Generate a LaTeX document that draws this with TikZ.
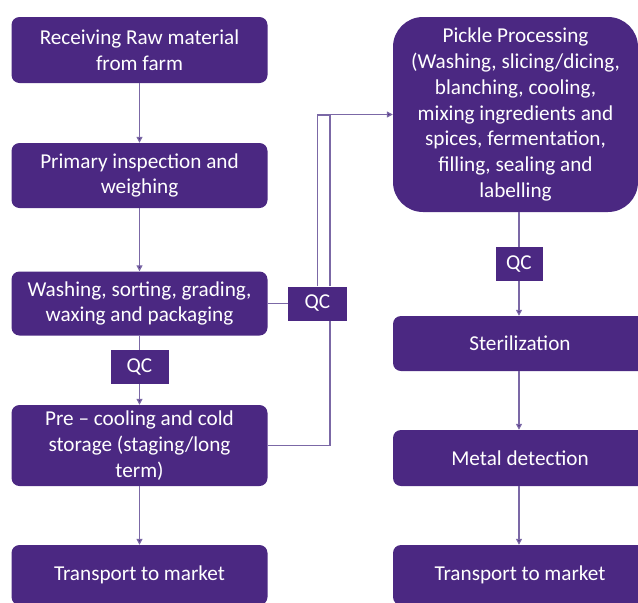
\documentclass[tikz,border=0pt]{standalone}
\usepackage{fontspec}
\setmainfont{Carlito}
\usetikzlibrary{arrows.meta}
\definecolor{stepfill}{HTML}{4B2882}
\definecolor{linkline}{HTML}{7B68A6}
\tikzset{
  stepbox/.style={rectangle, rounded corners=8pt, fill=stepfill, text=white,
    align=center, inner sep=0pt, minimum width=256pt,
    font=\fontsize{21.2}{25.7}\selectfont},
  qcbox/.style={rectangle, fill=stepfill, text=white, inner sep=0pt,
    minimum height=34pt, font=\fontsize{21.2}{25.7}\selectfont},
  link/.style={draw=linkline, line width=1.2pt},
  flow/.style={link, -{Triangle[length=6pt,width=6pt,fill=stepfill]}}
}

\begin{document}
\begin{tikzpicture}[x=1pt,y=-1pt]
  \useasboundingbox (0,0) rectangle (638,603);
  %%%%% left column %%%%%
  \node[stepbox, minimum height=66pt] (recv) at (139.5,50) {Receiving Raw material\\from farm};
  \node[stepbox, minimum height=65pt] (insp) at (139.5,175.5) {Primary inspection and\\weighing};
  \node[stepbox, minimum height=64pt] (wash) at (139.5,303.5) {Washing, sorting, grading,\\waxing and packaging};
  \node[qcbox, minimum width=58pt] (qca) at (139.5,367) {QC};
  \node[stepbox, minimum height=81pt] (cool) at (139.5,445.5) {Pre -- cooling and cold\\storage (staging/long\\term)};
  \node[stepbox, minimum height=60pt] (tra) at (139.5,575) {Transport to market};

  %%%%% right column %%%%%
  \node[stepbox, rounded corners=30pt, minimum width=245pt, minimum height=195pt] (pickle) at (515.5,114.5)
    {Pickle Processing\\(Washing, slicing/dicing,\\blanching, cooling,\\mixing ingredients and\\spices, fermentation,\\filling, sealing and\\labelling};
  \node[qcbox, minimum width=47pt] (qcb) at (519,264) {QC};
  \node[stepbox, minimum width=254pt, minimum height=55pt] (ster) at (520,343.5) {Sterilization};
  \node[stepbox, minimum width=254pt, minimum height=56pt] (metal) at (520,458) {Metal detection};
  \node[stepbox, minimum width=254pt, minimum height=60pt] (trb) at (520,575) {Transport to market};

  %%%%% middle %%%%%
  \node[qcbox, minimum width=59pt] (qcm) at (317.5,303.5) {QC};
  \coordinate (jn) at (330,115);

  % arrows
  \draw[flow] (recv) -- (insp);
  \draw[flow] (insp) -- (wash);
  \draw[link] (wash) -- (qca);
  \draw[flow] (qca) -- (cool);
  \draw[flow] (cool) -- (tra);

  \draw[link] (pickle.south -| qcb) -- (qcb);
  \draw[flow] (qcb) -- (ster.north -| qcb);
  \draw[flow] (ster.south -| qcb) -- (metal.north -| qcb);
  \draw[flow] (metal.south -| qcb) -- (trb.north -| qcb);

  \draw[link] (wash.east) -- (qcm.west);
  \draw[flow] (qcm.north) |- (pickle.west);
  \draw[link] (cool.east) -| (qcm.south -| jn);
  \draw[link] (qcm.north -| jn) -- (jn) -- (jn -| qcm.north);
\end{tikzpicture}
\end{document}
